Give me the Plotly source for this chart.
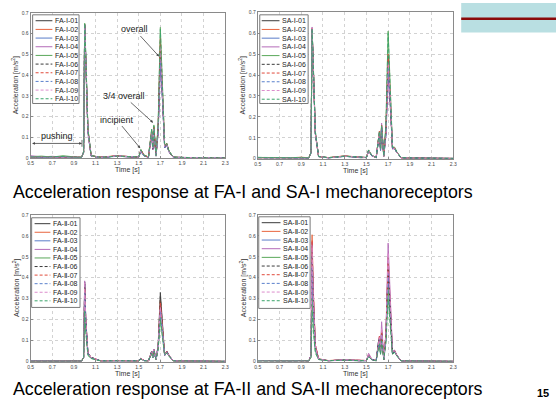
import plotly.graph_objects as go

# ---------------- data ----------------
time_s = [0.50, 0.60, 0.70, 0.80, 0.90, 0.97, 0.99, 1.00, 1.01, 1.03, 1.06, 1.15, 1.30, 1.45, 1.50, 1.52,
          1.55, 1.59, 1.61, 1.62, 1.63, 1.64, 1.66, 1.68, 1.70, 1.72, 1.74, 1.76, 1.78, 1.82, 2.00, 2.30]

x_tick_vals = [0.5, 0.7, 0.9, 1.1, 1.3, 1.5, 1.7, 1.9, 2.1, 2.3]
x_tick_text = ["0.5", "0.7", "0.9", "1.1", "1.3", "1.5", "1.7", "1.9", "2.1", "2.3"]
y_tick_vals = [0, 0.1, 0.2, 0.3, 0.4, 0.5, 0.6, 0.7]
y_tick_text = ["0", "0.1", "0.2", "0.3", "0.4", "0.5", "0.6", "0.7"]

fa1_names = ["FA-Ⅰ-01", "FA-Ⅰ-02", "FA-Ⅰ-03", "FA-Ⅰ-04", "FA-Ⅰ-05",
             "FA-Ⅰ-06", "FA-Ⅰ-07", "FA-Ⅰ-08", "FA-Ⅰ-09", "FA-Ⅰ-10"]
sa1_names = ["SA-Ⅰ-01", "SA-Ⅰ-02", "SA-Ⅰ-03", "SA-Ⅰ-04", "SA-Ⅰ-05",
             "SA-Ⅰ-06", "SA-Ⅰ-07", "SA-Ⅰ-08", "SA-Ⅰ-09", "SA-Ⅰ-10"]
fa2_names = ["FA-Ⅱ-01", "FA-Ⅱ-02", "FA-Ⅱ-03", "FA-Ⅱ-04", "FA-Ⅱ-05",
             "FA-Ⅱ-06", "FA-Ⅱ-07", "FA-Ⅱ-08", "FA-Ⅱ-09", "FA-Ⅱ-10"]
sa2_names = ["SA-Ⅱ-01", "SA-Ⅱ-02", "SA-Ⅱ-03", "SA-Ⅱ-04", "SA-Ⅱ-05",
             "SA-Ⅱ-06", "SA-Ⅱ-07", "SA-Ⅱ-08", "SA-Ⅱ-09", "SA-Ⅱ-10"]

fa1_values = [
    [0.006, 0.004, 0.007, 0.003, 0.005, 0.004, 0.03, 0.64, 0.48, 0.14, 0.012, 0.004, 0.010, 0.004, 0.006, 0.035, 0.012, 0.005, 0.08, 0.12, 0.04, 0.14, 0.012, 0.13, 0.48, 0.30, 0.05, 0.066, 0.035, 0.004, 0.002, 0.001],
    [0.005, 0.008, 0.004, 0.006, 0.003, 0.005, 0.025, 0.645, 0.47, 0.13, 0.010, 0.005, 0.012, 0.006, 0.004, 0.040, 0.015, 0.006, 0.09, 0.135, 0.05, 0.15, 0.010, 0.15, 0.56, 0.33, 0.06, 0.070, 0.030, 0.005, 0.002, 0.001],
    [0.009, 0.003, 0.006, 0.008, 0.004, 0.003, 0.028, 0.64, 0.49, 0.13, 0.011, 0.003, 0.009, 0.005, 0.005, 0.030, 0.010, 0.004, 0.085, 0.125, 0.045, 0.145, 0.011, 0.14, 0.50, 0.31, 0.055, 0.060, 0.030, 0.004, 0.002, 0.001],
    [0.012, 0.006, 0.009, 0.005, 0.008, 0.004, 0.03, 0.645, 0.46, 0.12, 0.010, 0.004, 0.011, 0.004, 0.005, 0.038, 0.013, 0.005, 0.075, 0.11, 0.04, 0.13, 0.010, 0.12, 0.44, 0.28, 0.05, 0.065, 0.030, 0.004, 0.002, 0.001],
    [0.007, 0.010, 0.005, 0.012, 0.006, 0.004, 0.03, 0.65, 0.50, 0.14, 0.012, 0.004, 0.010, 0.005, 0.006, 0.042, 0.014, 0.006, 0.10, 0.14, 0.05, 0.16, 0.012, 0.17, 0.63, 0.36, 0.06, 0.072, 0.035, 0.005, 0.002, 0.001],
    [0.005, 0.004, 0.006, 0.004, 0.005, 0.003, 0.027, 0.64, 0.47, 0.13, 0.010, 0.004, 0.010, 0.004, 0.005, 0.036, 0.012, 0.005, 0.08, 0.125, 0.045, 0.14, 0.010, 0.14, 0.52, 0.31, 0.05, 0.065, 0.030, 0.004, 0.002, 0.001],
    [0.006, 0.005, 0.008, 0.004, 0.006, 0.004, 0.03, 0.645, 0.48, 0.13, 0.011, 0.005, 0.011, 0.005, 0.005, 0.040, 0.013, 0.005, 0.09, 0.13, 0.05, 0.15, 0.011, 0.15, 0.58, 0.34, 0.06, 0.070, 0.032, 0.004, 0.002, 0.001],
    [0.007, 0.004, 0.005, 0.006, 0.004, 0.003, 0.028, 0.64, 0.47, 0.12, 0.010, 0.004, 0.010, 0.004, 0.005, 0.034, 0.011, 0.005, 0.08, 0.12, 0.045, 0.14, 0.010, 0.13, 0.46, 0.29, 0.05, 0.063, 0.030, 0.004, 0.002, 0.001],
    [0.006, 0.006, 0.005, 0.005, 0.007, 0.004, 0.03, 0.64, 0.48, 0.13, 0.011, 0.004, 0.011, 0.005, 0.005, 0.037, 0.012, 0.005, 0.085, 0.13, 0.048, 0.145, 0.011, 0.14, 0.54, 0.32, 0.055, 0.066, 0.030, 0.004, 0.002, 0.001],
    [0.006, 0.007, 0.006, 0.008, 0.005, 0.004, 0.03, 0.65, 0.50, 0.14, 0.012, 0.004, 0.010, 0.005, 0.006, 0.040, 0.013, 0.006, 0.095, 0.14, 0.05, 0.155, 0.012, 0.16, 0.62, 0.35, 0.06, 0.070, 0.034, 0.005, 0.002, 0.001],
]

sa1_values = [
    [0.005, 0.004, 0.006, 0.003, 0.004, 0.003, 0.03, 0.62, 0.46, 0.12, 0.010, 0.004, 0.012, 0.004, 0.006, 0.040, 0.015, 0.005, 0.09, 0.12, 0.04, 0.15, 0.012, 0.14, 0.49, 0.30, 0.05, 0.050, 0.030, 0.004, 0.002, 0.001],
    [0.004, 0.006, 0.005, 0.004, 0.007, 0.004, 0.028, 0.625, 0.46, 0.12, 0.010, 0.005, 0.013, 0.005, 0.005, 0.038, 0.014, 0.005, 0.10, 0.13, 0.045, 0.16, 0.011, 0.13, 0.45, 0.28, 0.05, 0.048, 0.030, 0.004, 0.002, 0.001],
    [0.006, 0.003, 0.005, 0.005, 0.004, 0.003, 0.028, 0.62, 0.45, 0.12, 0.010, 0.004, 0.011, 0.004, 0.005, 0.036, 0.013, 0.005, 0.09, 0.12, 0.04, 0.15, 0.010, 0.12, 0.42, 0.27, 0.05, 0.046, 0.030, 0.004, 0.002, 0.001],
    [0.005, 0.005, 0.004, 0.006, 0.005, 0.004, 0.03, 0.63, 0.46, 0.12, 0.011, 0.004, 0.012, 0.005, 0.005, 0.040, 0.015, 0.005, 0.095, 0.13, 0.045, 0.17, 0.012, 0.11, 0.38, 0.25, 0.045, 0.050, 0.030, 0.004, 0.002, 0.001],
    [0.006, 0.005, 0.006, 0.004, 0.006, 0.004, 0.03, 0.62, 0.47, 0.13, 0.011, 0.005, 0.012, 0.005, 0.006, 0.042, 0.016, 0.006, 0.10, 0.13, 0.045, 0.16, 0.012, 0.17, 0.61, 0.36, 0.055, 0.055, 0.032, 0.005, 0.002, 0.001],
    [0.004, 0.004, 0.005, 0.004, 0.005, 0.003, 0.028, 0.62, 0.46, 0.12, 0.010, 0.004, 0.011, 0.004, 0.005, 0.038, 0.014, 0.005, 0.09, 0.12, 0.042, 0.15, 0.011, 0.13, 0.47, 0.29, 0.05, 0.050, 0.030, 0.004, 0.002, 0.001],
    [0.005, 0.005, 0.006, 0.005, 0.006, 0.004, 0.03, 0.625, 0.46, 0.12, 0.011, 0.005, 0.013, 0.005, 0.005, 0.039, 0.014, 0.005, 0.095, 0.13, 0.045, 0.16, 0.012, 0.14, 0.50, 0.31, 0.05, 0.052, 0.030, 0.004, 0.002, 0.001],
    [0.005, 0.004, 0.005, 0.005, 0.004, 0.003, 0.028, 0.62, 0.45, 0.12, 0.010, 0.004, 0.011, 0.004, 0.005, 0.036, 0.013, 0.005, 0.09, 0.12, 0.04, 0.15, 0.010, 0.12, 0.44, 0.28, 0.05, 0.048, 0.030, 0.004, 0.002, 0.001],
    [0.005, 0.005, 0.005, 0.005, 0.005, 0.004, 0.03, 0.625, 0.46, 0.12, 0.011, 0.004, 0.012, 0.005, 0.005, 0.039, 0.014, 0.005, 0.095, 0.125, 0.044, 0.16, 0.011, 0.13, 0.46, 0.29, 0.05, 0.050, 0.030, 0.004, 0.002, 0.001],
    [0.006, 0.005, 0.006, 0.005, 0.006, 0.004, 0.03, 0.62, 0.47, 0.13, 0.011, 0.005, 0.012, 0.005, 0.006, 0.041, 0.015, 0.006, 0.10, 0.13, 0.045, 0.16, 0.012, 0.16, 0.60, 0.35, 0.055, 0.054, 0.032, 0.005, 0.002, 0.001],
]

fa2_values = [
    [0.003, 0.002, 0.004, 0.002, 0.003, 0.002, 0.02, 0.38, 0.20, 0.04, 0.020, 0.003, 0.004, 0.002, 0.003, 0.015, 0.005, 0.003, 0.03, 0.05, 0.02, 0.06, 0.010, 0.08, 0.33, 0.15, 0.03, 0.050, 0.030, 0.003, 0.001, 0.001],
    [0.002, 0.003, 0.002, 0.003, 0.002, 0.002, 0.02, 0.36, 0.19, 0.04, 0.020, 0.003, 0.005, 0.002, 0.003, 0.014, 0.005, 0.003, 0.03, 0.045, 0.02, 0.055, 0.010, 0.07, 0.29, 0.14, 0.03, 0.048, 0.028, 0.003, 0.001, 0.001],
    [0.003, 0.002, 0.003, 0.002, 0.003, 0.002, 0.02, 0.37, 0.19, 0.04, 0.018, 0.003, 0.004, 0.002, 0.003, 0.013, 0.004, 0.003, 0.028, 0.045, 0.02, 0.055, 0.010, 0.07, 0.25, 0.13, 0.03, 0.045, 0.028, 0.003, 0.001, 0.001],
    [0.004, 0.003, 0.003, 0.003, 0.002, 0.002, 0.02, 0.385, 0.20, 0.04, 0.020, 0.003, 0.004, 0.002, 0.003, 0.015, 0.005, 0.003, 0.03, 0.05, 0.02, 0.06, 0.010, 0.07, 0.27, 0.14, 0.03, 0.050, 0.030, 0.003, 0.001, 0.001],
    [0.002, 0.002, 0.003, 0.002, 0.002, 0.002, 0.02, 0.26, 0.15, 0.03, 0.015, 0.003, 0.004, 0.002, 0.003, 0.012, 0.004, 0.003, 0.025, 0.04, 0.018, 0.05, 0.010, 0.06, 0.20, 0.11, 0.03, 0.042, 0.026, 0.003, 0.001, 0.001],
    [0.003, 0.002, 0.003, 0.002, 0.003, 0.002, 0.02, 0.37, 0.20, 0.04, 0.020, 0.003, 0.004, 0.002, 0.003, 0.015, 0.005, 0.003, 0.03, 0.05, 0.02, 0.058, 0.010, 0.075, 0.31, 0.15, 0.03, 0.050, 0.030, 0.003, 0.001, 0.001],
    [0.002, 0.003, 0.002, 0.002, 0.003, 0.002, 0.02, 0.35, 0.19, 0.04, 0.019, 0.003, 0.005, 0.002, 0.003, 0.014, 0.005, 0.003, 0.03, 0.045, 0.02, 0.055, 0.010, 0.07, 0.28, 0.14, 0.03, 0.048, 0.028, 0.003, 0.001, 0.001],
    [0.003, 0.002, 0.003, 0.002, 0.002, 0.002, 0.02, 0.33, 0.18, 0.04, 0.018, 0.003, 0.004, 0.002, 0.003, 0.013, 0.004, 0.003, 0.028, 0.042, 0.02, 0.052, 0.010, 0.065, 0.24, 0.13, 0.03, 0.045, 0.027, 0.003, 0.001, 0.001],
    [0.003, 0.003, 0.002, 0.003, 0.003, 0.002, 0.02, 0.38, 0.20, 0.04, 0.020, 0.003, 0.004, 0.002, 0.003, 0.014, 0.005, 0.003, 0.03, 0.048, 0.02, 0.058, 0.010, 0.07, 0.26, 0.14, 0.03, 0.048, 0.028, 0.003, 0.001, 0.001],
    [0.002, 0.002, 0.003, 0.002, 0.002, 0.002, 0.02, 0.24, 0.14, 0.03, 0.015, 0.003, 0.004, 0.002, 0.003, 0.012, 0.004, 0.003, 0.025, 0.04, 0.018, 0.05, 0.010, 0.06, 0.21, 0.11, 0.03, 0.042, 0.026, 0.003, 0.001, 0.001],
]

sa2_values = [
    [0.004, 0.003, 0.005, 0.003, 0.004, 0.003, 0.03, 0.55, 0.33, 0.07, 0.012, 0.004, 0.008, 0.003, 0.005, 0.030, 0.010, 0.004, 0.09, 0.11, 0.04, 0.14, 0.010, 0.12, 0.45, 0.25, 0.04, 0.050, 0.030, 0.003, 0.002, 0.001],
    [0.005, 0.004, 0.004, 0.004, 0.005, 0.003, 0.03, 0.605, 0.36, 0.08, 0.013, 0.005, 0.010, 0.004, 0.005, 0.032, 0.011, 0.004, 0.10, 0.12, 0.045, 0.15, 0.010, 0.13, 0.50, 0.27, 0.045, 0.052, 0.030, 0.003, 0.002, 0.001],
    [0.004, 0.003, 0.004, 0.003, 0.004, 0.003, 0.03, 0.50, 0.30, 0.07, 0.012, 0.004, 0.008, 0.003, 0.005, 0.030, 0.010, 0.004, 0.09, 0.11, 0.04, 0.14, 0.010, 0.12, 0.48, 0.26, 0.04, 0.050, 0.030, 0.003, 0.002, 0.001],
    [0.005, 0.004, 0.005, 0.004, 0.004, 0.003, 0.03, 0.57, 0.34, 0.08, 0.013, 0.004, 0.009, 0.004, 0.005, 0.040, 0.012, 0.004, 0.10, 0.12, 0.05, 0.19, 0.012, 0.14, 0.565, 0.30, 0.05, 0.055, 0.032, 0.003, 0.002, 0.001],
    [0.003, 0.003, 0.004, 0.003, 0.003, 0.003, 0.02, 0.30, 0.18, 0.05, 0.010, 0.004, 0.007, 0.003, 0.004, 0.025, 0.009, 0.004, 0.07, 0.09, 0.035, 0.11, 0.010, 0.10, 0.35, 0.20, 0.035, 0.045, 0.028, 0.003, 0.002, 0.001],
    [0.004, 0.003, 0.004, 0.003, 0.004, 0.003, 0.03, 0.52, 0.31, 0.07, 0.012, 0.004, 0.008, 0.003, 0.005, 0.030, 0.010, 0.004, 0.09, 0.11, 0.04, 0.14, 0.010, 0.12, 0.44, 0.24, 0.04, 0.050, 0.030, 0.003, 0.002, 0.001],
    [0.004, 0.004, 0.005, 0.004, 0.004, 0.003, 0.03, 0.58, 0.35, 0.08, 0.013, 0.004, 0.009, 0.004, 0.005, 0.032, 0.011, 0.004, 0.10, 0.12, 0.045, 0.15, 0.011, 0.13, 0.47, 0.26, 0.045, 0.052, 0.030, 0.003, 0.002, 0.001],
    [0.004, 0.003, 0.004, 0.003, 0.004, 0.003, 0.03, 0.45, 0.27, 0.06, 0.011, 0.004, 0.008, 0.003, 0.004, 0.028, 0.010, 0.004, 0.085, 0.10, 0.04, 0.13, 0.010, 0.11, 0.42, 0.23, 0.04, 0.048, 0.029, 0.003, 0.002, 0.001],
    [0.004, 0.004, 0.004, 0.004, 0.004, 0.003, 0.03, 0.55, 0.33, 0.07, 0.012, 0.004, 0.009, 0.004, 0.005, 0.034, 0.011, 0.004, 0.095, 0.115, 0.045, 0.16, 0.011, 0.13, 0.52, 0.28, 0.045, 0.052, 0.030, 0.003, 0.002, 0.001],
    [0.003, 0.003, 0.003, 0.003, 0.003, 0.003, 0.02, 0.24, 0.15, 0.04, 0.010, 0.004, 0.007, 0.003, 0.004, 0.024, 0.008, 0.004, 0.07, 0.085, 0.035, 0.10, 0.010, 0.09, 0.30, 0.18, 0.035, 0.044, 0.027, 0.003, 0.002, 0.001],
]

# ---------------- styles ----------------
series_colors = ["#3a3a3a", "#e8643e", "#5a7cc8", "#b46ab8", "#5aa85a",
                 "#3a3a3a", "#e04a3a", "#5a80cc", "#dc8ccc", "#3aa46a"]
series_dash = ["solid"] * 5 + ["4px,2px"] * 5

W, H = 560, 405


def px(x):
    return x / W


def py(y):
    return 1 - y / H


panels = [
    dict(names=fa1_names, vals=fa1_values, xa="x", ya="y", xd=(28, 225), yd=(10, 157.5),
         box=(30, 77, 12, 102), row0=18, dy=8.8, lx=(33, 50), tx=51),
    dict(names=sa1_names, vals=sa1_values, xa="x2", ya="y2", xd=(258, 456), yd=(9.5, 158),
         box=(260, 309, 12, 102), row0=18, dy=8.85, lx=(262, 280), tx=281),
    dict(names=fa2_names, vals=fa2_values, xa="x3", ya="y3", xd=(28, 225), yd=(215, 364),
         box=(29, 78, 218, 309), row0=224, dy=8.7, lx=(32, 48), tx=49),
    dict(names=sa2_names, vals=sa2_values, xa="x4", ya="y4", xd=(258, 456), yd=(215, 364),
         box=(259, 311, 217, 310), row0=223, dy=8.8, lx=(262, 281), tx=282),
]

fig = go.Figure()
shapes = []
annotations = []
layout_axes = {}

for pi, p in enumerate(panels):
    for i, (nm, vals) in enumerate(zip(p["names"], p["vals"])):
        fig.add_trace(go.Scatter(
            x=time_s, y=vals, mode="lines", name=nm, showlegend=False,
            xaxis=p["xa"], yaxis=p["ya"],
            line=dict(color=series_colors[i], width=1, dash=series_dash[i]),
            opacity=0.9,
        ))
    xkey = "xaxis" if p["xa"] == "x" else "xaxis" + p["xa"][1:]
    ykey = "yaxis" if p["ya"] == "y" else "yaxis" + p["ya"][1:]
    common = dict(showline=True, mirror=True, linecolor="#8a8a8a", linewidth=1,
                  showgrid=True, gridcolor="#d2d2d2", griddash="dot", gridwidth=1,
                  zeroline=False, ticks="inside", ticklen=2, tickcolor="#8a8a8a",
                  tickfont=dict(size=5, color="#444", family="Liberation Sans"))
    layout_axes[xkey] = dict(domain=[px(p["xd"][0]), px(p["xd"][1])], anchor=p["ya"],
                             range=[0.5, 2.3], tickmode="array", tickvals=x_tick_vals,
                             ticktext=x_tick_text, **common)
    layout_axes[ykey] = dict(domain=[py(p["yd"][1]), py(p["yd"][0])], anchor=p["xa"],
                             range=[0, 0.7], tickmode="array", tickvals=y_tick_vals,
                             ticktext=y_tick_text, **common)

    xc = (p["xd"][0] + p["xd"][1]) / 2
    yc = (p["yd"][0] + p["yd"][1]) / 2
    annotations.append(dict(x=px(xc), y=py(p["yd"][1] + 12.5), xref="paper", yref="paper",
                            text="Time [s]", showarrow=False, xanchor="center", yanchor="middle",
                            font=dict(size=7, color="#333", family="Liberation Sans")))
    annotations.append(dict(x=px(p["xd"][0] - 15), y=py(yc), xref="paper", yref="paper",
                            text="Acceleration [m/s<sup>2</sup>]", textangle=-90, showarrow=False,
                            xanchor="center", yanchor="middle",
                            font=dict(size=7, color="#333", family="Liberation Sans")))

    bx0, bx1, by0, by1 = p["box"]
    shapes.append(dict(type="rect", xref="paper", yref="paper", x0=px(bx0), x1=px(bx1),
                       y0=py(by1), y1=py(by0), fillcolor="white",
                       line=dict(color="#7a7a7a", width=1), layer="above"))
    for i, nm in enumerate(p["names"]):
        ry = p["row0"] + i * p["dy"]
        shapes.append(dict(type="line", xref="paper", yref="paper", x0=px(p["lx"][0]),
                           x1=px(p["lx"][1]), y0=py(ry), y1=py(ry), layer="above",
                           line=dict(color=series_colors[i], width=1,
                                     dash="3px,2px" if series_dash[i] != "solid" else "solid")))
        annotations.append(dict(x=px(p["tx"]), y=py(ry), xref="paper", yref="paper", text=nm,
                                showarrow=False, xanchor="left", yanchor="middle",
                                font=dict(size=7, color="#222", family="Liberation Sans, DejaVu Sans")))

# FA-I labels
lab_font = dict(size=9, color="#222", family="Liberation Sans")
arrow_common = dict(xref="x", yref="y", axref="x", ayref="y", showarrow=True,
                    arrowhead=2, arrowsize=0.7, arrowwidth=0.8, arrowcolor="#444", font=lab_font)
annotations.append(dict(x=1.688, y=0.49, ax=1.46, ay=0.62, text="overall", **arrow_common))
annotations.append(dict(x=1.633, y=0.171, ax=1.36, ay=0.30, text="3/4 overall", **arrow_common))
annotations.append(dict(x=1.514, y=0.048, ax=1.295, ay=0.186, text="incipient", **arrow_common))
annotations.append(dict(x=0.975, y=0.071, ax=0.5, ay=0.071, text=" ", xref="x", yref="y",
                        axref="x", ayref="y", showarrow=True, arrowhead=2, arrowside="end+start",
                        arrowsize=0.7, arrowwidth=0.8, arrowcolor="#444", font=dict(size=1)))
annotations.append(dict(x=0.747, y=0.105, xref="x", yref="y", text="pushing", showarrow=False,
                        font=lab_font))
shapes.append(dict(type="line", xref="x", yref="y", x0=0.975, x1=0.975, y0=0.055, y1=0.088,
                   line=dict(color="#444", width=0.8)))

# captions
cap_font = dict(size=17.8, color="#000", family="Liberation Sans, Arial")
annotations.append(dict(x=px(8), y=py(192), xref="paper", yref="paper", showarrow=False,
                        xanchor="left", yanchor="middle", font=cap_font,
                        text="Acceleration response at FA-I and SA-I mechanoreceptors"))
annotations.append(dict(x=px(8), y=py(392), xref="paper", yref="paper", showarrow=False,
                        xanchor="left", yanchor="middle", font=cap_font,
                        text="Acceleration response at FA-II and SA-II mechanoreceptors"))
annotations.append(dict(x=px(547), y=py(396), xref="paper", yref="paper", showarrow=False,
                        xanchor="center", yanchor="middle", text="<b>15</b>",
                        font=dict(size=11, color="#000", family="Liberation Sans, Arial")))

# slide decoration top-right
shapes.append(dict(type="rect", xref="paper", yref="paper", x0=px(464), x1=1, y0=py(30), y1=1,
                   fillcolor="#b9dfe2", line=dict(width=0), layer="below"))
shapes.append(dict(type="line", xref="paper", yref="paper", x0=px(464), x1=1, y0=py(16), y1=py(16),
                   line=dict(color="#8b0a0a", width=2.5)))

fig.update_layout(
    width=W, height=H, autosize=False,
    margin=dict(l=0, r=0, t=0, b=0),
    paper_bgcolor="white", plot_bgcolor="white",
    showlegend=False,
    shapes=shapes, annotations=annotations,
    **layout_axes,
)

fig.write_html("out.html", config={"displayModeBar": False},
               post_script="document.body.style.margin='0';document.body.style.overflow='hidden';")
